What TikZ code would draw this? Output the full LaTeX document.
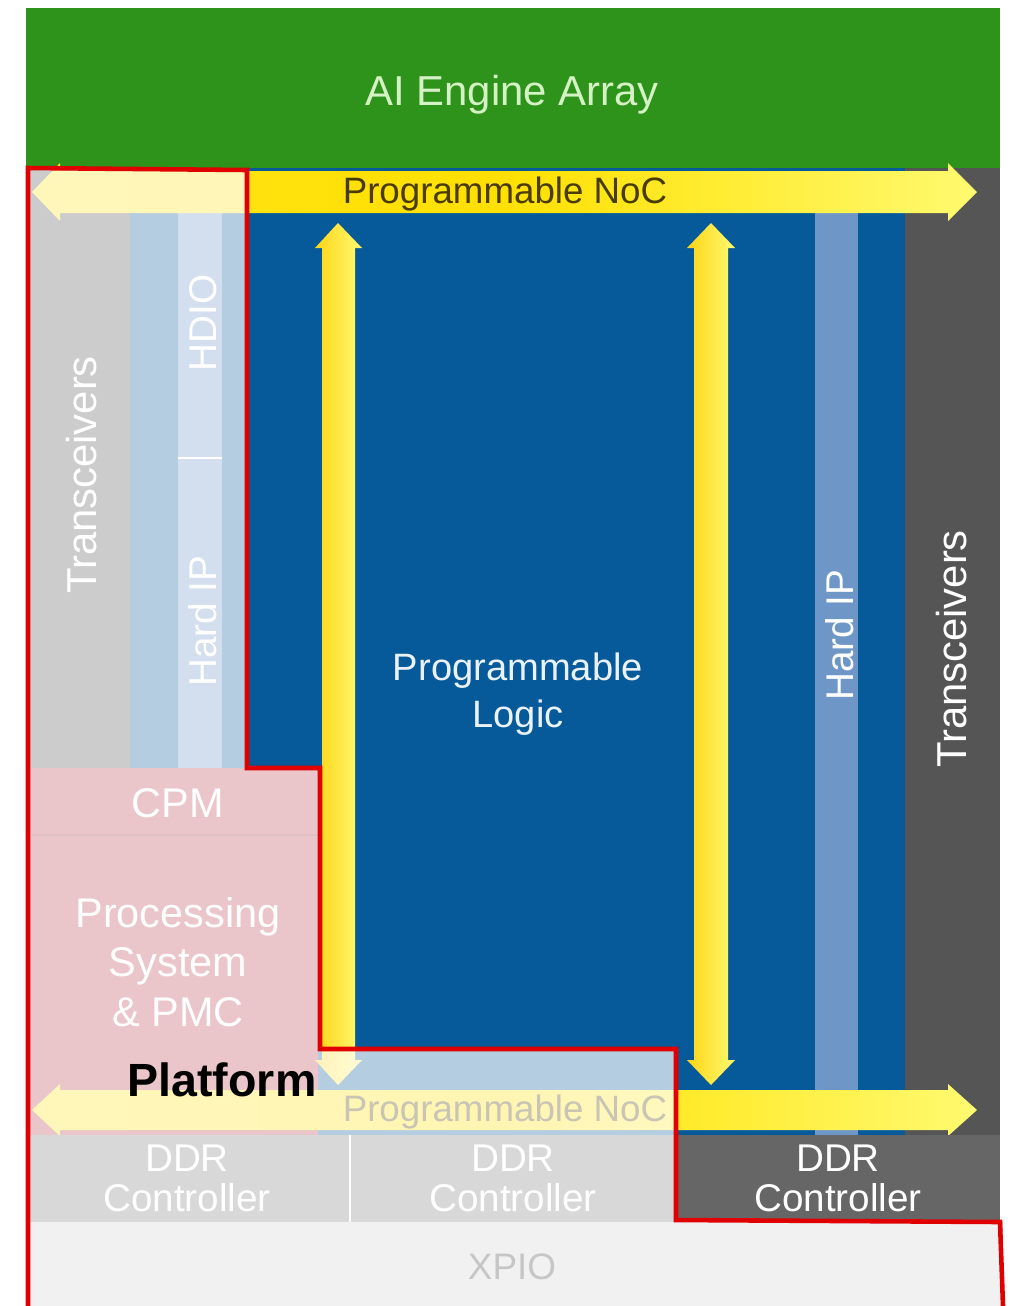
\documentclass[tikz,border=0pt]{standalone}
\usepackage{fontspec}
\setmainfont{Liberation Sans}

\begin{document}
\begin{tikzpicture}[x=0.02cm, y=-0.02cm,
  tag/.style={inner sep=0pt, align=center, text=white},
  vtag/.style={tag, rotate=90},
  noc/.style={left color=colNoCa, right color=colNoCb, middle color=colNoCm}]

% Colori
\definecolor{colAIE}{HTML}{2E931A}
\definecolor{colAIEtxt}{HTML}{D5F2C5}
\definecolor{colPL}{HTML}{065A9A}
\definecolor{colHIP}{HTML}{6E96C6}
\definecolor{colGT}{HTML}{555555}
\definecolor{colCPM}{HTML}{B93E4B}
\definecolor{colDDRa}{HTML}{7D7D7D}
\definecolor{colDDRb}{HTML}{666666}
\definecolor{colXPIO}{HTML}{D3D3D3}
\definecolor{colXPIOtxt}{HTML}{414141}
\definecolor{colNoCa}{HTML}{FFE41A}
\definecolor{colNoCm}{HTML}{FFE000}
\definecolor{colNoCb}{HTML}{FFFA70}
\definecolor{colNoCtxt}{HTML}{4A3C00}
\definecolor{colRed}{HTML}{E00000}

\useasboundingbox (0,0) rectangle (1015,1306);

% AI Engine
\fill[colAIE] (26,8) rectangle (1000,168);
\node[tag, text=colAIEtxt, font=\fontsize{23.8pt}{28pt}\selectfont] (aie) at (512,95) {AI Engine Array};

% Logica programmabile e colonne
\fill[colPL] (30,168) rectangle (905,1135);
\fill[colGT] (905,168) rectangle (1000,1135);
\fill[colGT] (30,168) rectangle (130,770);
\fill[colHIP] (178,210) rectangle (222,770);
\draw[white, line width=1pt] (178,458) -- (222,458);
\fill[colHIP] (815,210) rectangle (858,1135);

% CPM / PS
\fill[colCPM] (30,768) rectangle (318,1135);
\draw[colCPM!85!black, line width=1pt] (30,835) -- (318,835);

% NoC verticali
\path[left color=colNoCa!85!orange, right color=colNoCb]
(338,223) -- (362,248) -- (355,248) -- (355,1060) -- (362,1060) -- (338,1085)
-- (315,1060) -- (322,1060) -- (322,248) -- (315,248) -- cycle;
\path[left color=colNoCa!85!orange, right color=colNoCb]
(711,223) -- (735,248) -- (728,248) -- (728,1060) -- (735,1060) -- (711,1085)
-- (687,1060) -- (694,1060) -- (694,248) -- (687,248) -- cycle;

% NoC orizzontali
\path[noc]
(32,192) -- (60,163) -- (60,171) -- (948,171) -- (948,163) -- (977,192)
-- (948,221) -- (948,213) -- (60,213) -- (60,221) -- cycle;
\path[noc]
(32,1110) -- (60,1084) -- (60,1090) -- (948,1090) -- (948,1084) -- (977,1110)
-- (948,1136) -- (948,1130) -- (60,1130) -- (60,1136) -- cycle;

% DDR e XPIO
\fill[colDDRa] (26,1135) rectangle (676,1222);
\fill[colDDRb] (676,1135) rectangle (1000,1222);
\draw[white, line width=1pt] (350,1135) -- (350,1222);
\fill[colXPIO] (26,1222) rectangle (1003,1306);

% Etichette
\node[tag, text=colNoCtxt, font=\fontsize{20.9pt}{25pt}\selectfont] (nocTop) at (505,194) {Programmable NoC};
\node[tag, text=colNoCtxt, font=\fontsize{20.9pt}{25pt}\selectfont] (nocBot) at (505,1112) {Programmable NoC};
\node[vtag, font=\fontsize{23.8pt}{28pt}\selectfont] (gtL) at (82,475) {Transceivers};
\node[vtag, font=\fontsize{23.8pt}{28pt}\selectfont] (gtR) at (952,649) {Transceivers};
\node[vtag, font=\fontsize{22pt}{26pt}\selectfont] (hdio) at (203,323) {HDIO};
\node[vtag, font=\fontsize{22pt}{26pt}\selectfont] (hipL) at (203,621) {Hard IP};
\node[vtag, font=\fontsize{22pt}{26pt}\selectfont] (hipR) at (840,635) {Hard IP};
\node[tag, text=white!92!colPL, font=\fontsize{21.7pt}{26.6pt}\selectfont] (pl) at (518,694) {Programmable\\Logic};
\node[tag, font=\fontsize{23.6pt}{28pt}\selectfont] (cpm) at (178,803) {CPM};
\node[tag, font=\fontsize{23.6pt}{28.3pt}\selectfont] (ps) at (178,962) {Processing\\System\\\& PMC};
\node[tag, font=\fontsize{22pt}{22.7pt}\selectfont] (ddrA) at (187,1178) {DDR\\Controller};
\node[tag, font=\fontsize{22pt}{22.7pt}\selectfont] (ddrB) at (513,1178) {DDR\\Controller};
\node[tag, font=\fontsize{22pt}{22.7pt}\selectfont] (ddrC) at (838,1178) {DDR\\Controller};
\node[tag, text=colXPIOtxt, font=\fontsize{21pt}{25pt}\selectfont] (xpio) at (512,1267) {XPIO};

% Velatura della piattaforma
\fill[white, opacity=0.7] (28,168) -- (247,170) -- (247,768) -- (320,768) -- (320,1049)
-- (676,1049) -- (676,1220) -- (1000,1222) -- (1003,1306) -- (28,1306) -- cycle;

% Contorno rosso
\draw[colRed, line width=2.6pt] (28,1306) -- (28,168) -- (247,170) -- (247,768) -- (320,768)
-- (320,1049) -- (676,1049) -- (676,1220) -- (1000,1222) -- (1003,1306);
\node[tag, text=black, font=\bfseries\fontsize{26.5pt}{30pt}\selectfont] (plat) at (222,1080) {Platform};

\end{tikzpicture}
\end{document}
